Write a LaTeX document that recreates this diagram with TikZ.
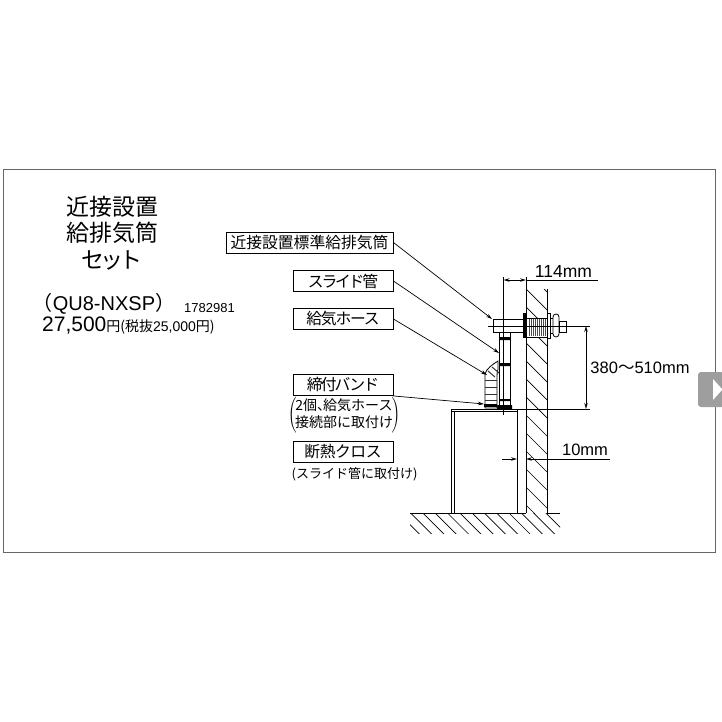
\documentclass[tikz,border=0pt]{standalone}
\usepackage{fontspec}
\usetikzlibrary{arrows.meta}
\setmainfont{Liberation Sans}
\newfontfamily\jp{Noto Sans CJK JP}
\newcommand{\fs}[2]{\fontsize{#1}{#2}\selectfont}
\newcommand{\tight}[1]{\addfontfeature{LetterSpace=#1}}
\tikzset{
	namebox/.style={draw,line width=.9pt,minimum height=21pt,inner sep=0pt,font=\jp\fs{15.8}{16}},
	txt/.style={inner sep=0pt,align=center},
	leader/.style={line width=.7pt,-{Stealth[length=6pt,width=3.5pt]}},
	dimline/.style={line width=.7pt,{Stealth[length=6pt,width=3.5pt,open]}-{Stealth[length=6pt,width=3.5pt,open]}},
	dimarrow/.style={line width=.7pt,-{Stealth[length=6pt,width=3.5pt,open]}},
	part/.style={draw,fill=white,line width=.8pt}
}
\begin{document}
\begin{tikzpicture}[x=1pt,y=-1pt]
	\useasboundingbox (0,0) rectangle (722,722);
	\draw[line width=1pt,black!60] (3,170) rectangle (715,552);
	\fill[black!38,rounded corners=3pt] (698,372) rectangle (724,407);
	\fill[white] (713,379) -- (722,389) -- (722,390) -- (713,400) -- cycle;

	\node[txt,font=\jp\fs{23}{26.5}] (title) at (112,233) {近接設置\\給排気筒\\{\tight{-18}セット}};
	\node[txt,font=\fs{20}{20}] (model) at (104,304) {{\jp（}QU8-NXSP{\jp）}};
	\node[txt,font=\fs{13}{13}] (code) at (209.5,308) {1782981};
	\node[txt,anchor=west] (price) at (42,326) {\fs{21}{21}27,500{\jp\fs{14}{14}円}\fs{14}{14}{\jp(税抜}25,000{\jp 円)}};

	\node[namebox,minimum width=167pt] (stdbox) at (309.5,242.5) {近接設置標準給排気筒};
	\node[namebox,minimum width=100pt] (slidebox) at (343,281) {\tight{-14}スライド管};
	\node[namebox,minimum width=100pt] (hosebox) at (343,319) {\tight{-8}給気ホース};
	\node[namebox,minimum width=100pt] (bandbox) at (343,385) {\tight{-12}締付バンド};
	\node[namebox,minimum width=100pt] (clothbox) at (343,452) {\tight{-3}断熱クロス};
	\node[txt,font=\fs{14}{17}] (bandnote) at (344,415.5) {$\left(\hspace{-1.5pt}\vcenter{\hbox{\begin{tabular}{@{}c@{}}\jp\fs{14}{17}2個、\kern-8pt 給気ホース\\\jp\fs{14}{17}接続部に取付け\end{tabular}}}\hspace{-1.5pt}\right)$};
	\node[txt,font=\jp\fs{13}{14}] (clothnote) at (354.5,474) {(スライド管に取付け)};

	\node[txt,font=\fs{17.5}{17.5}] (wallmm) at (563.5,271) {114mm};
	\node[txt,font=\fs{16.5}{16.5}] (heightmm) at (640,368) {380\raisebox{.5pt}{\jp〜}510mm};
	\node[txt,font=\fs{16.5}{16.5}] (gapmm) at (585,450) {10mm};

	\begin{scope}
		\clip (526,289) rectangle (547,513);
		\foreach \i in {271,289,...,505}
			\draw[line width=.7pt] (526,\i) -- ++(22,22);
	\end{scope}
	\begin{scope}
		\clip (410,513) rectangle (560,533);
		\foreach \i in {386,398.3,...,550}
			\draw[line width=.7pt] (\i,513) -- ++(22,22);
	\end{scope}
	\draw[line width=.8pt] (526,277) -- (526,513);
	\draw[line width=.8pt] (547,289) -- (547,513);
	\draw[line width=.9pt] (410,513) -- (526,513) (547,513) -- (560,513);

	\draw[part] (451,409) rectangle (517,513);
	\draw[line width=.8pt] (451,411) -- (517,411) (454,411) -- (454,513);

	\draw[part] (499,332) rectangle (510,408);
	\draw[part] (493,319) rectangle (523,332);
	\fill (499,337) rectangle (510,340) (499,363) rectangle (510,366);
	\fill (499,399) rectangle (510,401) (497,405) rectangle (512,409);

	\draw[part] (485,374) .. controls (486,369) and (493,364) .. (498,361) -- (498,369) .. controls (497,372) and (497,375) .. (497,378) -- (497,408) -- (485,408) -- cycle;
	\foreach \i in {380,387,394,400}
		\draw[line width=1pt,black!80] (485,\i) -- (497,\i);
	\foreach \i/\j in {488/371,492/367}
		\draw[line width=1pt,black!80] (\i,\j) -- ++(7,6);
	\fill (484,404) rectangle (497,407);

	\draw[part] (526,318) rectangle (547,337);
	\foreach \i in {529,531,...,546}
		\draw[line width=.7pt,black!70] (\i,319) -- (\i,336);
	\fill (523,313) rectangle (525.5,338);
	\draw[part] (547,313) rectangle (550,338);
	\draw[part] (550,318) rectangle (553,333);
	\draw[part,rounded corners=3pt] (553,314) rectangle (559,337);
	\draw[part] (559,321) rectangle (566,332);

	\coordinate (stdend) at (492,319);
	\coordinate (slideend) at (499,353);
	\coordinate (hoseend) at (487,375);
	\coordinate (bandend) at (484,404);
	\draw[leader] (stdbox.east) -- (stdend);
	\draw[leader] (slidebox.east) -- (slideend);
	\draw[leader] (hosebox.east) -- (hoseend);
	\draw[leader] (bandbox.south east) -- (bandend);

	\coordinate (pipetop) at (503.5,277);
	\coordinate (pipefoot) at (503.5,415);
	\coordinate (axisfrom) at (488,326);
	\coordinate (axisto) at (590,326);
	\coordinate (basefrom) at (517,409);
	\coordinate (baseto) at (590,409);
	\draw[line width=.7pt] (pipetop) -- (pipefoot);
	\draw[line width=.7pt] (axisfrom) -- (axisto);
	\draw[line width=.7pt] (basefrom) -- (baseto);

	\coordinate (widthfrom) at (503.5,280);
	\coordinate (widthto) at (526,280);
	\coordinate (widthend) at (598,280);
	\coordinate (rise) at (586,326);
	\coordinate (risefoot) at (586,409);
	\draw[dimline] (widthfrom) -- (widthto);
	\draw[line width=.7pt] (widthto) -- (widthend);
	\draw[dimline] (rise) -- (risefoot);

	\coordinate (gapfrom) at (502,459);
	\coordinate (gapbox) at (517,459);
	\coordinate (gapwall) at (526,459);
	\coordinate (gapend) at (610,459);
	\draw[dimarrow] (gapfrom) -- (gapbox);
	\draw[dimarrow] (gapend) -- (gapwall);
\end{tikzpicture}
\end{document}
